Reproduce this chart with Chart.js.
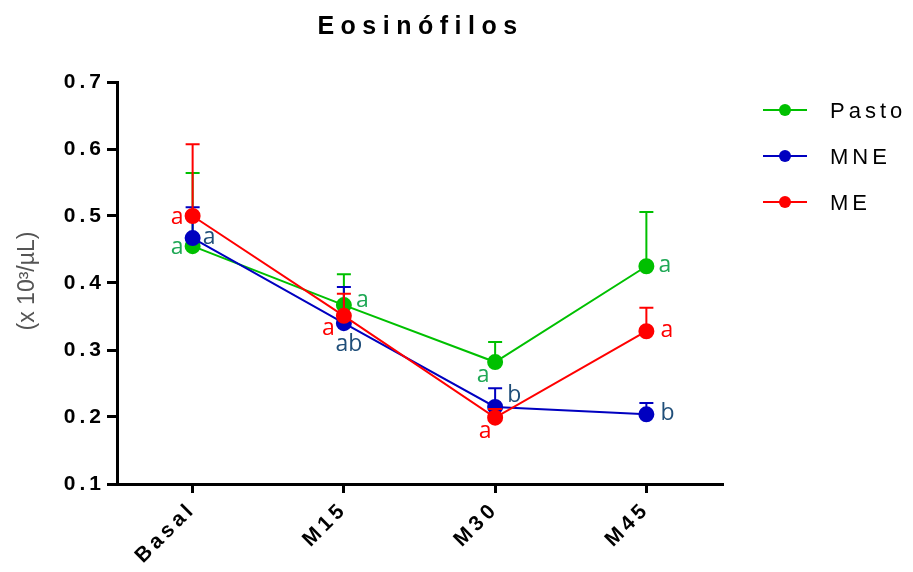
<!DOCTYPE html>
<html>
<head>
<meta charset="utf-8">
<script src="https://cdn.jsdelivr.net/npm/chart.js@4.4.1/dist/chart.umd.min.js"></script>
<style>
  html, body { margin: 0; padding: 0; background: #fff; }
</style>
</head>
<body>
<canvas id="chart" width="913" height="572"></canvas>
<script>
// sampling times
var times = ['Basal', 'M15', 'M30', 'M45'];

// mean and mean + error, x 10^3/uL
var pastoMean  = [0.455, 0.367, 0.282, 0.425];
var pastoUpper = [0.564, 0.413, 0.312, 0.506];
var mneMean    = [0.467, 0.340, 0.215, 0.204];
var mneUpper   = [0.513, 0.394, 0.243, 0.221];
var meMean     = [0.500, 0.351, 0.199, 0.328];
var meUpper    = [0.607, 0.384, 0.212, 0.363];

// significance letters
var pastoLetters = ['a', 'a', 'a', 'a'];
var mneLetters   = ['a', 'ab', 'b', 'b'];
var meLetters    = ['a', 'a', 'a', 'a'];

// where each letter sits relative to its point: dx, dy, align
var pastoLetterPos = [[-9, 2, 'right'], [12, -4, 'left'], [-12, 14, 'center'], [12, 0, 'left']];
var mneLetterPos   = [[10, 0, 'left'], [5, 22, 'center'], [12, -11, 'left'], [14, 0, 'left']];
var meLetterPos    = [[-9, 2, 'right'], [-9, 13, 'right'], [-10, 14, 'center'], [14, 0, 'left']];

var GREEN = '#00c000', BLUE = '#0000c0', RED = '#ff0000';

function series(label, mean, upper, letters, pos, color, letterColor, order) {
    return {
        label: label,
        data: mean,
        upper: upper,
        letters: letters,
        letterPos: pos,
        letterColor: letterColor,
        borderColor: color,
        backgroundColor: color,
        pointBackgroundColor: color,
        pointBorderColor: color,
        pointRadius: 7,
        pointHoverRadius: 7,
        borderWidth: 2,
        tension: 0,
        order: order
    };
}

var errorBars = {
    id: 'errorBars',
    beforeDatasetDraw: function(chart, args) {
        var ds = chart.data.datasets[args.index];
        var y = chart.scales.y;
        var ctx = chart.ctx;
        ctx.save();
        ctx.strokeStyle = ds.borderColor;
        ctx.lineWidth = 2;
        args.meta.data.forEach(function(pt, i) {
            var top = y.getPixelForValue(ds.upper[i]);
            ctx.beginPath();
            ctx.moveTo(pt.x, pt.y);
            ctx.lineTo(pt.x, top);
            ctx.moveTo(pt.x - 7, top);
            ctx.lineTo(pt.x + 7, top);
            ctx.stroke();
        });
        ctx.restore();
    }
};

var decorations = {
    id: 'decorations',
    beforeDraw: function(chart) {
        // spaced-out lettering for the axis ticks
        chart.ctx.letterSpacing = '4px';
    },
    afterDatasetsDraw: function(chart) {
        var ctx = chart.ctx;
        ctx.save();
        ctx.letterSpacing = '0px';
        ctx.font = '23px "Open Sans", "Noto Sans", sans-serif';
        ctx.textBaseline = 'alphabetic';
        chart.data.datasets.forEach(function(ds, di) {
            var meta = chart.getDatasetMeta(di);
            ctx.fillStyle = ds.letterColor;
            meta.data.forEach(function(pt, i) {
                var p = ds.letterPos[i];
                ctx.textAlign = p[2];
                ctx.fillText(ds.letters[i], pt.x + p[0], pt.y + p[1] + 6);
            });
        });
        ctx.restore();
    },
    afterDraw: function(chart) {
        var ctx = chart.ctx;
        var area = chart.chartArea;
        ctx.save();

        // title
        ctx.fillStyle = '#000';
        ctx.font = 'bold 25px "Liberation Sans", Arial, sans-serif';
        ctx.letterSpacing = '6.5px';
        ctx.textAlign = 'center';
        ctx.textBaseline = 'alphabetic';
        ctx.fillText('Eosinófilos', (area.left + area.right) / 2 + 1, 34);

        // y axis title
        ctx.save();
        ctx.letterSpacing = '0px';
        ctx.fillStyle = '#555';
        ctx.font = '23px "Liberation Sans", Arial, sans-serif';
        ctx.translate(28, (area.top + area.bottom) / 2 - 2);
        ctx.rotate(-Math.PI / 2);
        ctx.textAlign = 'center';
        ctx.textBaseline = 'middle';
        ctx.fillText('(x 10³/µL)', 0, 0);
        ctx.restore();

        // legend
        ctx.font = '22px "Liberation Sans", Arial, sans-serif';
        ctx.letterSpacing = '4px';
        ctx.textAlign = 'left';
        ctx.textBaseline = 'middle';
        chart.data.datasets.forEach(function(ds, i) {
            var ly = 110 + i * 46;
            ctx.strokeStyle = ds.borderColor;
            ctx.fillStyle = ds.borderColor;
            ctx.lineWidth = 2;
            ctx.beginPath();
            ctx.moveTo(763, ly);
            ctx.lineTo(807, ly);
            ctx.stroke();
            ctx.beginPath();
            ctx.arc(785, ly, 6, 0, Math.PI * 2);
            ctx.fill();
            ctx.fillStyle = '#000';
            ctx.fillText(ds.label, 830, ly + 2);
        });
        ctx.restore();
    }
};

new Chart(document.getElementById('chart').getContext('2d'), {
    type: 'line',
    data: {
        labels: times,
        datasets: [
            series('Pasto', pastoMean, pastoUpper, pastoLetters, pastoLetterPos, GREEN, '#1fa855', 3),
            series('MNE', mneMean, mneUpper, mneLetters, mneLetterPos, BLUE, '#1f4e79', 2),
            series('ME', meMean, meUpper, meLetters, meLetterPos, RED, RED, 1)
        ]
    },
    options: {
        responsive: false,
        animation: false,
        layout: { padding: { top: 82, right: 191, left: 0, bottom: 0 } },
        plugins: {
            legend: { display: false },
            title: { display: false },
            tooltip: { enabled: false }
        },
        scales: {
            x: {
                type: 'category',
                offset: true,
                afterFit: function(scale) { scale.height = 88; },
                border: { display: true, color: '#000', width: 3 },
                grid: { display: true, drawOnChartArea: false, drawTicks: true, tickLength: 9, color: '#000', lineWidth: 3, offset: false },
                ticks: {
                    color: '#000',
                    padding: 4,
                    minRotation: 45,
                    maxRotation: 45,
                    font: { family: '"Liberation Sans", Arial, sans-serif', size: 21, weight: 'bold' }
                }
            },
            y: {
                min: 0.1,
                max: 0.7,
                afterFit: function(scale) { scale.width = 117; },
                border: { display: true, color: '#000', width: 3 },
                grid: { display: true, drawOnChartArea: false, drawTicks: true, tickLength: 10, color: '#000', lineWidth: 3 },
                ticks: {
                    stepSize: 0.1,
                    color: '#000',
                    padding: 2,
                    font: { family: '"Liberation Sans", Arial, sans-serif', size: 21, weight: 'bold' },
                    callback: function(v) { return Number(v).toFixed(1); }
                }
            }
        }
    },
    plugins: [errorBars, decorations]
});
</script>
</body>
</html>
